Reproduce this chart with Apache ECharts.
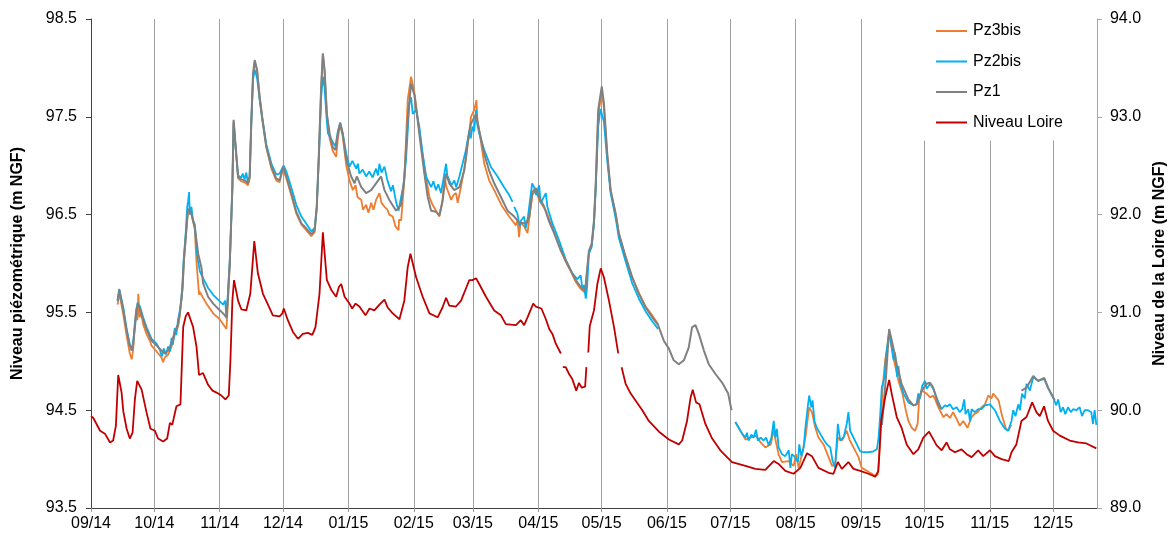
<!DOCTYPE html>
<html>
<head>
<meta charset="utf-8">
<script src="https://cdn.jsdelivr.net/npm/echarts@6/dist/echarts.min.js"></script>
<style>
html,body{margin:0;padding:0;background:#fff;}
#chart{width:1176px;height:540px;}
</style>
</head>
<body>
<div id="chart"></div>
<script>
// Day offsets are days since 2014-09-01; levels in m NGF. null = gap in record.
const seriesNames = ['Pz3bis', 'Pz2bis', 'Pz1', 'Niveau Loire'];

const pz3bis = [
[12.6,95.58],[13.4,95.70],[15.3,95.48],[16.9,95.26],[18.4,95.08],[19.3,95.02],[20.0,95.12],[20.8,95.40],[21.5,95.55],[22.0,95.42],[22.4,95.69],[23.0,95.45],[23.7,95.50],[24.7,95.38],[26.3,95.28],[27.9,95.21],[28.7,95.16],[31.1,95.10],[33.4,95.04],[34.2,94.99],[35.0,95.04],[36.6,95.07],[38.2,95.15],[39.7,95.27],[41.3,95.36],[42.1,95.47],[43.4,95.74],[44.0,96.01],[44.9,96.25],[46.0,96.55],[47.6,96.50],[49.2,96.35],[49.9,96.05],[50.4,95.90],[50.8,95.80],[51.2,95.68],[51.6,95.71],[53.1,95.65],[54.7,95.59],[57.9,95.49],[61.0,95.43],[64.2,95.33],[64.9,95.60],[65.8,96.00],
[67.0,96.76],[67.6,97.45],[68.6,97.17],[69.7,96.87],[71.3,96.84],[72.8,96.83],[74.4,96.80],[75.2,96.87],[76.0,97.45],[76.8,97.92],[77.6,98.06],[78.7,97.98],[79.9,97.72],[81.2,97.50],[83.1,97.19],[85.5,96.97],[87.8,96.85],[89.4,96.83],[91.0,96.97],[92.6,96.87],[94.9,96.70],[97.3,96.51],[99.7,96.40],[102.0,96.34],[104.4,96.28],[106.0,96.32],[107.0,96.56],[108.0,97.10],[109.1,97.80],[109.9,98.13],[110.7,97.97],[111.8,97.52],[113.1,97.28],[114.6,97.15],[116.2,97.09],[117.0,97.28],[118.1,97.42],[119.3,97.30],[121.0,97.00],[122.5,96.85],[124.1,96.75],[125.4,96.80],[126.3,96.68],[128.1,96.65],[128.9,96.55],[130.4,96.60],[131.5,96.52],[132.8,96.62],[133.9,96.55],[135.1,96.65],[136.7,96.72],[137.7,96.62],[139.1,96.58],[140.5,96.55],[141.4,96.50],[143.0,96.48],[144.3,96.38],[145.8,96.34],[146.0,96.45],[147.0,96.44],[148.5,96.85],[150.1,97.67],[151.7,97.91],[153.3,97.75],[155.6,97.36],[158.0,96.99],[160.4,96.68],[161.9,96.60],[163.5,96.54],[165.1,96.48],[166.5,96.62],[167.5,96.89],[168.5,96.78],[170.7,96.65],[171.8,96.70],[173.0,96.72],[173.8,96.62],[175.3,96.78],[177.7,97.06],[180.1,97.50],[181.6,97.57],[182.7,97.67],[183.2,97.45],[184.0,97.36],[186.4,97.02],[188.7,96.85],[191.1,96.75],[195.0,96.58],[198.2,96.48],[201.4,96.39],[202.2,96.45],[202.9,96.27],[203.6,96.42],[205.3,96.38],[206.9,96.31],[207.7,96.45],[209.2,96.70],[210.8,96.75],[212.4,96.65],[215.6,96.54],[218.7,96.37],[222.7,96.14],[225.0,96.02],[227.4,95.92],[229.8,95.81],[232.1,95.74],[234.2,95.70],[234.8,95.84],[236.0,96.11],[237.3,96.18],[238.4,96.42],[239.2,96.78],[240.4,97.52],[242.1,97.76],[243.1,97.60],[244.7,97.10],[246.3,96.74],[248.7,96.50],[250.2,96.30],[253.4,96.06],[256.5,95.86],[259.7,95.70],[262.9,95.56],[266.0,95.47],[268.8,95.38],
[287,null],
[305.4,94.38],[307.0,94.32],[310.2,94.20],[312.6,94.22],[315.2,94.24],[317.4,94.17],[319.6,94.12],[322.2,94.15],[323.6,94.30],[324.6,94.18],[325.9,94.05],[327.5,93.97],[330.7,93.98],[333.0,93.93],[334.2,94.05],[335.4,93.91],[337.0,94.05],[338.6,94.22],[340.4,94.53],[341.7,94.48],[343.3,94.32],[344.8,94.22],[347.2,94.15],[349.6,94.02],[351.2,93.93],[352.7,93.95],[354.0,94.22],[355.9,94.19],[358.2,94.29],[359.5,94.20],[361.4,94.12],[363.8,94.02],[365.3,93.91],[367.7,93.88],[370.1,93.85],[371.7,93.83],[372.9,93.84],[374.1,94.19],[375.1,94.70],[376.4,95.01],[378.3,95.28],[380.3,95.04],[382.7,94.80],[384.6,94.67],[386.2,94.50],[387.4,94.39],[389.0,94.32],[390.6,94.29],[391.8,94.36],[392.5,94.60],[393.7,94.70],[396.1,94.67],[397.7,94.63],[399.2,94.65],[400.3,94.60],[401.6,94.53],[404.0,94.43],[405.5,94.46],[407.1,94.42],[408.6,94.48],[410.3,94.41],[411.8,94.34],[413.4,94.39],[415.4,94.32],[417.4,94.43],[418.6,94.46],[420.2,94.48],[422.1,94.53],[423.7,94.56],[425.3,94.65],[426.8,94.62],[427.6,94.67],[428.4,94.65],[430.2,94.60],[431.6,94.46],[433.5,94.32],[434.7,94.29],[436.2,94.35]
];

const pz2bis = [
[12.6,95.62],[13.4,95.74],[15.3,95.55],[16.9,95.33],[18.4,95.17],[19.3,95.12],[20.0,95.20],[21.3,95.48],[22.1,95.60],[23.2,95.56],[24.7,95.45],[26.3,95.35],[28.7,95.23],[31.1,95.18],[32.6,95.12],[33.6,95.05],[34.5,95.13],[35.5,95.07],[36.6,95.15],[37.4,95.10],[38.2,95.24],[38.8,95.17],[39.7,95.34],[40.4,95.27],[41.3,95.43],[42.1,95.52],[42.8,95.62],[43.4,95.82],[44.0,96.06],[44.9,96.32],[45.6,96.58],[46.0,96.63],[46.5,96.73],[46.8,96.50],[47.6,96.58],[48.3,96.44],[49.2,96.40],[50.0,96.16],[50.8,96.02],[51.6,95.92],[53.1,95.85],[55.5,95.75],[57.9,95.68],[60.2,95.63],[62.6,95.58],[63.6,95.62],[64.2,95.44],[64.9,95.70],[65.8,96.03],
[67.0,96.78],[67.6,97.44],[68.6,97.17],[69.7,96.90],[71.3,96.88],[71.9,96.92],[72.8,96.86],[73.6,96.93],[74.4,96.82],[75.2,96.89],[76.0,97.45],[76.8,97.88],[77.6,97.98],[78.7,97.90],[79.9,97.68],[81.2,97.48],[83.1,97.22],[85.5,97.02],[87.8,96.91],[89.4,96.92],[91.3,97.00],[92.6,96.94],[94.9,96.78],[97.3,96.60],[99.7,96.48],[102.0,96.41],[104.4,96.33],[106.0,96.36],[107.0,96.58],[108.0,97.08],[109.1,97.70],[109.9,97.91],[110.7,97.80],[111.8,97.45],[112.3,97.33],[113.1,97.30],[114.6,97.24],[115.9,97.20],[117.0,97.35],[118.1,97.44],[119.3,97.33],[121.0,97.12],[122.5,96.99],[123.9,97.05],[125.7,96.97],[126.5,97.02],[127.2,96.92],[128.8,96.96],[130.4,96.89],[131.9,96.94],[133.5,96.88],[135.1,96.97],[136.0,96.90],[136.7,97.02],[137.7,96.93],[139.1,96.99],[140.5,96.85],[142.2,96.74],[143.1,96.80],[144.6,96.63],[145.8,96.54],[147.0,96.68],[148.1,96.80],[149.3,97.06],[150.9,97.64],[151.7,97.70],[152.5,97.53],[154.1,97.57],[155.6,97.40],[157.2,97.12],[158.8,96.89],[161.2,96.78],[162.3,96.84],[163.5,96.75],[164.6,96.81],[165.9,96.72],[167.5,96.92],[168.3,97.02],[168.9,96.90],[169.8,96.89],[170.8,96.80],[172.2,96.85],[173.1,96.78],[174.6,96.89],[176.1,97.02],[177.7,97.16],[179.3,97.36],[180.0,97.28],[180.8,97.40],[181.6,97.35],[182.5,97.57],[183.1,97.42],[184.0,97.33],[186.4,97.16],[189.5,96.99],[192.7,96.89],[195.8,96.78],[198.2,96.70],[199.8,96.63],
[200.2,null],
[200.6,96.58],[202.1,96.51],[203.2,96.38],[203.8,96.44],[205.3,96.48],[206.0,96.36],[206.9,96.44],[208.5,96.72],[209.1,96.82],[210.0,96.78],[211.0,96.70],[212.4,96.80],[213.1,96.62],[213.9,96.65],[215.6,96.72],[216.3,96.58],[218.7,96.41],[221.8,96.24],[225.0,96.04],[228.1,95.90],[230.5,95.84],[232.1,95.88],[232.9,95.74],[233.7,95.78],[234.5,95.64],[235.1,95.75],[236.0,96.10],[237.3,96.17],[238.4,96.40],[239.2,96.75],[240.4,97.40],[241.5,97.58],[242.1,97.60],[243.1,97.45],[244.7,97.05],[246.3,96.72],[248.7,96.46],[250.2,96.26],[253.4,96.02],[256.5,95.80],[259.7,95.64],[262.9,95.51],[266.0,95.41],[268.8,95.33],
[287,null],
[305.4,94.38],[307.0,94.32],[308.6,94.26],[310.2,94.22],[310.9,94.27],[311.7,94.19],[313.0,94.25],[314.1,94.22],[315.2,94.30],[316.1,94.19],[317.4,94.22],[318.8,94.19],[320.0,94.22],[321.2,94.14],[322.5,94.22],[323.6,94.39],[324.4,94.22],[325.1,94.31],[325.9,94.12],[327.5,94.05],[329.1,94.03],[330.7,94.09],[331.5,93.91],[332.2,94.05],[333.3,94.03],[334.1,94.05],[335.1,93.97],[335.7,94.15],[336.7,94.03],[337.8,94.12],[338.6,94.32],[339.8,94.55],[340.4,94.65],[341.4,94.53],[342.0,94.60],[342.9,94.39],[344.0,94.32],[345.6,94.26],[347.2,94.20],[348.8,94.15],[350.4,94.12],[351.5,93.98],[352.7,93.91],[354.0,94.36],[355.1,94.19],[356.7,94.22],[358.2,94.36],[359.0,94.48],[359.8,94.29],[361.4,94.22],[363.0,94.15],[364.6,94.08],[366.2,94.07],[368.5,94.07],[370.9,94.08],[372.5,94.10],[373.3,94.22],[374.1,94.46],[374.8,94.73],[376.1,94.84],[376.8,95.04],[378.3,95.31],[379.6,95.14],[380.4,95.01],[381.1,95.09],[382.1,94.84],[382.7,94.95],[383.5,94.78],[385.1,94.67],[387.4,94.58],[389.8,94.55],[391.3,94.56],[392.1,94.67],[392.9,94.62],[394.0,94.75],[395.3,94.80],[396.1,94.72],[397.7,94.77],[399.2,94.72],[401.3,94.60],[403.1,94.51],[404.7,94.55],[405.9,94.54],[407.1,94.56],[408.6,94.51],[410.3,94.53],[411.8,94.48],[412.9,94.51],[413.9,94.61],[414.5,94.46],[415.8,94.51],[416.6,94.39],[417.4,94.51],[418.9,94.48],[420.5,94.51],[422.1,94.51],[423.7,94.55],[426.1,94.56],[428.4,94.50],[430.8,94.39],[433.2,94.31],[434.7,94.29],[436.3,94.39],[437.1,94.50],[438.2,94.44],[439.5,94.56],[440.3,94.50],[441.3,94.67],[442.6,94.62],[443.4,94.77],[445.0,94.70],[446.6,94.84],[448.9,94.80],[451.8,94.82],[453.6,94.73],[456.0,94.63],[457.5,94.55],[458.4,94.61],[459.6,94.48],[460.7,94.53],[461.8,94.46],[463.1,94.53],[464.4,94.48],[465.5,94.51],[467.0,94.50],[468.6,94.53],[469.7,94.44],[471.0,94.50],[472.6,94.50],[474.1,94.48],[474.9,94.36],[475.7,94.50],[476.5,94.35]
];

const pz1 = [
[12.6,95.62],[13.4,95.73],[15.3,95.52],[16.9,95.31],[18.4,95.16],[19.3,95.11],[20.0,95.18],[21.3,95.45],[22.1,95.59],[23.2,95.54],[24.7,95.43],[26.3,95.33],[28.7,95.21],[31.1,95.16],[33.4,95.11],[35.0,95.08],[36.6,95.11],[38.2,95.19],[39.7,95.30],[41.3,95.38],[42.1,95.49],[43.4,95.76],[44.0,96.03],[44.9,96.27],[46.0,96.56],[47.6,96.51],[49.2,96.37],[50.8,96.10],[52.4,95.95],[53.1,95.80],[55.5,95.66],[57.9,95.59],[60.2,95.54],[62.6,95.49],[64.2,95.45],[64.9,95.66],[65.8,96.03],[67.0,96.78],[67.6,97.47],[68.6,97.19],[69.7,96.89],[71.3,96.86],[72.8,96.85],[74.4,96.82],[75.2,96.89],[76.0,97.47],[76.8,97.94],[77.6,98.08],[78.7,97.98],[79.9,97.70],[81.2,97.47],[83.1,97.19],[85.5,96.99],[87.8,96.87],[89.4,96.85],[91.0,96.99],[92.6,96.89],[94.9,96.72],[97.3,96.53],[99.7,96.41],[102.0,96.36],[104.4,96.30],[106.0,96.34],[107.0,96.58],[108.0,97.12],[109.1,97.81],[109.9,98.15],[110.7,97.98],[111.8,97.53],[113.1,97.33],[114.6,97.19],[115.9,97.16],[117.0,97.33],[118.1,97.44],[119.3,97.33],[121.0,97.06],[123.3,96.89],[124.9,96.82],[126.0,96.89],[128.1,96.78],[130.4,96.72],[132.8,96.75],[135.1,96.82],[137.5,96.89],[139.1,96.75],[141.4,96.65],[144.6,96.54],[147.0,96.60],[148.5,96.87],[150.1,97.47],[151.7,97.84],[153.3,97.72],[154.8,97.47],[156.4,97.19],[158.0,96.92],[159.6,96.68],[161.2,96.54],[163.5,96.53],[165.1,96.49],[166.7,96.65],[168.3,96.92],[169.8,96.82],[172.2,96.75],[174.6,96.78],[176.9,96.95],[178.5,97.23],[180.1,97.43],[182.5,97.53],[184.0,97.36],[186.4,97.12],[188.7,96.95],[191.1,96.82],[194.3,96.68],[197.4,96.54],[200.6,96.48],[202.9,96.42],[206.1,96.41],[207.7,96.48],[209.2,96.73],[210.8,96.77],[212.4,96.68],[214.8,96.58],[217.1,96.43],[219.5,96.31],[222.7,96.13],[225.0,96.03],[227.4,95.93],[229.8,95.83],[232.1,95.76],[234.2,95.72],[234.8,95.86],[236.0,96.13],[237.3,96.20],[238.4,96.44],[239.2,96.80],[240.4,97.57],[242.1,97.81],[243.1,97.64],[244.7,97.12],[246.3,96.75],[248.7,96.51],[250.2,96.31],[253.4,96.07],[256.5,95.86],[259.7,95.69],[262.9,95.55],[266.0,95.45],[268.8,95.37],[271.5,95.21],[273.9,95.13],[276.2,95.01],[278.6,94.97],[281.0,95.01],[283.3,95.14],[284.9,95.35],[286.5,95.37],[288.1,95.28],[290.5,95.11],[292.8,94.97],[296.0,94.87],[299.2,94.78],[302.0,94.67],[303.6,94.50],
[340,null],
[374.9,94.35],[376.8,94.84],[378.3,95.33],[380.3,95.14],[381.9,94.97],[384.2,94.77],[387.4,94.61],[389.8,94.55],[391.3,94.56],[393.7,94.70],[396.1,94.77],[397.7,94.78],[399.2,94.73],[401.6,94.56],[403.1,94.51],
[420,null],
[441.0,94.70],[443.4,94.73],[446.6,94.85],[448.9,94.80],[451.8,94.83],[453.6,94.73],[456.8,94.60]
];

const niveauLoire = [
[0,89.94],[1.1,89.92],[4.3,89.79],[6.6,89.76],[9.0,89.67],[10.5,89.69],[11.8,89.84],[12.9,90.36],[14.5,90.18],[15.3,89.99],[16.9,89.81],[18.4,89.71],[19.7,89.77],[20.8,90.11],[21.9,90.30],[24.0,90.21],[26.3,89.98],[28.2,89.81],[30.3,89.79],[31.8,89.71],[34.2,89.68],[36.1,89.71],[37.4,89.87],[38.5,89.85],[40.5,90.04],[42.4,90.06],[43.7,90.85],[44.9,90.96],[46.0,91.00],[48.4,90.85],[50.0,90.65],[51.2,90.36],[53.1,90.38],[55.5,90.26],[57.6,90.20],[59.5,90.18],[61.8,90.15],[63.7,90.11],[65.3,90.15],[66.1,90.52],[67.0,91.12],[67.8,91.33],[69.7,91.12],[71.3,91.03],[73.6,91.02],[74.4,91.00],[75.5,91.19],[77.4,91.73],[79.1,91.40],[81.5,91.19],[84.7,91.04],[86.2,90.97],[89.4,90.96],[90.7,90.99],[91.4,91.04],[93.3,90.92],[95.7,90.80],[98.1,90.73],[100.4,90.78],[102.8,90.79],[104.9,90.77],[106.4,90.85],[108.3,91.19],[109.9,91.82],[111.8,91.33],[113.9,91.23],[116.2,91.16],[117.5,91.26],[118.6,91.29],[120.2,91.16],[122.5,91.09],[123.8,91.04],[125.4,91.09],[127.2,91.06],[130.1,90.97],[132.0,91.04],[134.3,91.02],[136.7,91.08],[139.1,91.13],[140.6,91.05],[143.0,90.99],[146.2,90.93],[148.5,91.12],[150.1,91.46],[151.4,91.60],[154.1,91.36],[157.2,91.16],[160.4,90.99],[164.3,90.95],[166.6,91.05],[168.3,91.15],[169.8,91.07],[173.0,91.06],[175.4,91.12],[178.0,91.26],[179.3,91.33],[180.8,91.33],[182.5,91.35],[184.0,91.29],[187.2,91.16],[191.1,91.02],[194.3,90.97],[196.6,90.88],[201.4,90.87],[203.7,90.92],[205.3,90.87],[206.9,90.95],[209.6,91.09],[210.8,91.06],[213.5,91.04],[215.6,90.93],[217.2,90.83],[218.7,90.78],[220.3,90.68],[222.7,90.58],
[223.0,null],
[223.6,90.44],[225.0,90.44],[226.6,90.37],[228.1,90.32],[230.0,90.20],[231.3,90.28],[232.6,90.23],[234.2,90.24],[234.8,90.44],
[235.2,null],
[235.7,90.59],[236.4,90.86],[237.3,90.88],[238.4,91.02],[240.0,91.29],[241.6,91.45],[243.1,91.36],[245.5,91.12],[247.9,90.85],[249.9,90.58],
[250.7,null],
[251.5,90.44],[253.4,90.27],[255.8,90.17],[258.1,90.10],[261.3,90.00],[264.4,89.89],[269.2,89.78],[273.9,89.70],[278.6,89.65],[280.2,89.69],[282.5,89.89],[284.2,90.13],[285.2,90.21],[286.8,90.08],[288.4,90.06],[291.2,89.86],[294.4,89.71],[298.3,89.59],[303.8,89.47],[310.2,89.43],[314.9,89.40],[319.6,89.39],[323.6,89.48],[325.9,89.45],[329.1,89.38],[333.0,89.35],[336.2,89.41],[339.4,89.56],[341.7,89.53],[344.8,89.41],[349.6,89.36],[351.9,89.35],[354.0,89.47],[355.9,89.40],[359.0,89.47],[361.4,89.40],[364.6,89.38],[368.5,89.35],[371.7,89.32],[373.2,89.38],[374.5,89.89],[376.4,90.13],[378.3,90.31],[379.5,90.17],[381.9,89.93],[384.2,89.82],[386.6,89.65],[389.8,89.55],[392.1,89.60],[394.5,89.72],[397.2,89.78],[398.8,89.72],[400.8,89.64],[403.2,89.59],[405.5,89.67],[407.1,89.60],[409.5,89.57],[412.6,89.60],[415.0,89.55],[417.4,89.52],[420.5,89.59],[422.9,89.53],[426.1,89.59],[428.4,89.53],[431.6,89.50],[435.0,89.48],[436.3,89.57],[438.6,89.65],[441.0,89.89],[443.4,89.93],[446.1,90.08],[448.1,89.98],[449.7,89.94],[451.7,90.04],[453.6,89.89],[456.0,89.79],[459.2,89.74],[463.9,89.69],[467.8,89.67],[471.8,89.66],[476.5,89.61]
];

const leftTicks = [93.5, 94.5, 95.5, 96.5, 97.5, 98.5];
const rightTicks = [89.0, 90.0, 91.0, 92.0, 93.0, 94.0];
const colors = ['#ED7D31', '#00B0F0', '#808080', '#C00000'];

const T0 = Date.UTC(2014, 8, 1);
const DAY = 86400000;
const X_END_DAYS = 476.8;
function toData(pairs) {
  return pairs.map(p => [T0 + p[0] * DAY, p[1] === null ? '-' : p[1]]);
}
function pad(n) { return (n < 10 ? '0' : '') + n; }

const FONT = "'Liberation Sans', Arial, sans-serif";
const chart = echarts.init(document.getElementById('chart'), null, {renderer: 'canvas'});
chart.setOption({
  useUTC: true,
  animation: false,
  backgroundColor: '#ffffff',
  textStyle: {fontFamily: FONT},
  grid: {left: 91, right: 77, top: 19, bottom: 32, containLabel: false},
  legend: {
    orient: 'vertical',
    left: 921, top: 13,
    padding: [10, 12, 10, 15],
    backgroundColor: '#ffffff',
    itemGap: 14.5,
    itemWidth: 31, itemHeight: 2,
    icon: 'rect',
    textStyle: {fontFamily: FONT, fontSize: 16, color: '#000', padding: [0, 0, 0, 1]},
    data: seriesNames
  },
  xAxis: {
    type: 'time',
    min: T0, max: T0 + X_END_DAYS * DAY,
    splitNumber: 16,
    minInterval: 28 * DAY, maxInterval: 31 * DAY,
    axisLine: {show: true, lineStyle: {color: '#404040', width: 1}},
    axisTick: {show: true, length: 4, lineStyle: {color: '#9a9a9a'}},
    splitLine: {show: true, lineStyle: {color: '#a0a0a0', width: 1}},
    axisLabel: {
      fontFamily: FONT, fontSize: 16, color: '#000', margin: 8,
      hideOverlap: false,
      formatter: function (v) { const d = new Date(v); return pad(d.getUTCMonth() + 1) + '/' + pad(d.getUTCFullYear() % 100); }
    }
  },
  yAxis: [{
    type: 'value', min: leftTicks[0], max: leftTicks[leftTicks.length - 1], interval: 1,
    name: 'Niveau piézométrique (m NGF)', nameLocation: 'middle', nameRotate: 90, nameGap: 65,
    nameTextStyle: {fontFamily: FONT, fontSize: 16, fontWeight: 'bold', color: '#000'},
    axisLine: {show: true, lineStyle: {color: '#404040'}},
    axisTick: {show: true, length: 5, lineStyle: {color: '#404040'}},
    splitLine: {show: false},
    axisLabel: {fontFamily: FONT, fontSize: 16, color: '#000', margin: 14, formatter: v => v.toFixed(1)}
  }, {
    type: 'value', min: rightTicks[0], max: rightTicks[rightTicks.length - 1], interval: 1,
    position: 'right',
    name: 'Niveau de la Loire (m NGF)', nameLocation: 'middle', nameRotate: 90, nameGap: 55,
    nameTextStyle: {fontFamily: FONT, fontSize: 16, fontWeight: 'bold', color: '#000'},
    axisLine: {show: true, lineStyle: {color: '#a6a6a6'}},
    axisTick: {show: true, length: 5, lineStyle: {color: '#a6a6a6'}},
    splitLine: {show: false},
    axisLabel: {fontFamily: FONT, fontSize: 16, color: '#000', margin: 13, formatter: v => v.toFixed(1)}
  }],
  series: [
    {name: seriesNames[0], type: 'line', yAxisIndex: 0, data: toData(pz3bis), showSymbol: false, connectNulls: false, color: colors[0], lineStyle: {width: 1.8}, z: 2},
    {name: seriesNames[1], type: 'line', yAxisIndex: 0, data: toData(pz2bis), showSymbol: false, connectNulls: false, color: colors[1], lineStyle: {width: 1.8}, z: 3},
    {name: seriesNames[2], type: 'line', yAxisIndex: 0, data: toData(pz1), showSymbol: false, connectNulls: false, color: colors[2], lineStyle: {width: 2}, z: 4},
    {name: seriesNames[3], type: 'line', yAxisIndex: 1, data: toData(niveauLoire), showSymbol: false, connectNulls: false, color: colors[3], lineStyle: {width: 1.8}, z: 5}
  ]
});
</script>
</body>
</html>
